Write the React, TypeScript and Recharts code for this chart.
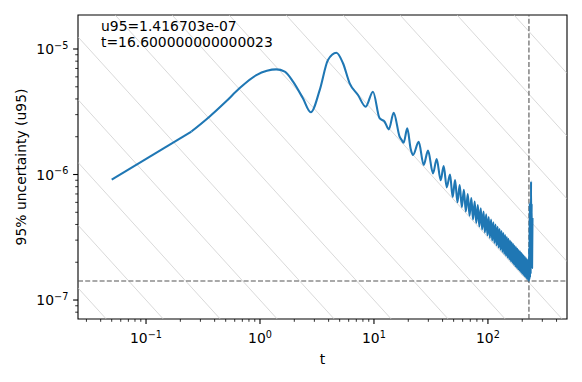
import { LineChart, Line, XAxis, YAxis, ReferenceLine, ReferenceArea } from 'recharts'

// axis ranges (log scale)
const xMin = 0.0253
const xMax = 494
const yMin = 7.06e-8
const yMax = 1.866e-5

// smooth start and the first big oscillations
const tEarly = [
  0.05, 0.25, 0.36, 0.5, 0.66, 0.93, 1.15, 1.39, 1.65, 1.95, 2.38, 2.79, 3.34, 3.95, 4.68, 5.35,
  6.12, 7.24, 8.46, 9.8, 11.2, 12.4, 13.5, 14.9, 16.8, 17.4, 18.2, 19.6, 21.0, 22.0, 24.7, 27.3,
  29.8, 33.0, 35.5, 38.5, 40.9, 43.5,
]
const uEarly = [
  9.1e-7, 2.2e-6, 2.89e-6, 3.8e-6, 4.86e-6, 6.2e-6, 6.7e-6, 6.88e-6, 6.6e-6, 5.5e-6, 4.05e-6,
  3.13e-6, 4.7e-6, 8.17e-6, 9.33e-6, 7.7e-6, 5.33e-6, 4.3e-6, 3.47e-6, 4.57e-6, 2.81e-6, 2.64e-6,
  2.29e-6, 3.1e-6, 2.0e-6, 1.9e-6, 1.79e-6, 2.33e-6, 1.6e-6, 1.43e-6, 1.82e-6, 1.19e-6, 1.55e-6,
  1.02e-6, 1.33e-6, 9.0e-7, 1.17e-6, 7.9e-7,
]

// dense ringing band: tops and bottoms
const tPeaks = [
  46.5, 51.5, 56.5, 61.5, 66.5, 71.5, 76.5, 81.5, 86.5, 91.5, 96.5, 101.5, 106.5, 111.5, 116.5,
  121.5, 126.5, 131.5, 136.5, 141.5, 146.5, 151.5, 156.5, 161.5, 166.5, 171.5, 176.5, 181.5,
  186.5, 191.5, 196.5, 201.5, 206.5, 211.5, 216.5, 221.5, 226.5,
]
const uPeaks = [
  1.0e-6, 9.03e-7, 8.23e-7, 7.56e-7, 6.99e-7, 6.5e-7, 6.08e-7, 5.71e-7, 5.38e-7, 5.08e-7, 4.82e-7,
  4.58e-7, 4.37e-7, 4.17e-7, 3.99e-7, 3.83e-7, 3.68e-7, 3.54e-7, 3.41e-7, 3.29e-7, 3.17e-7,
  3.07e-7, 2.97e-7, 2.88e-7, 2.79e-7, 2.71e-7, 2.63e-7, 2.56e-7, 2.49e-7, 2.43e-7, 2.37e-7,
  2.31e-7, 2.25e-7, 2.2e-7, 2.15e-7, 2.1e-7, 2.05e-7,
]
const tTroughs = [
  49, 54, 59, 64, 69, 74, 79, 84, 89, 94, 99, 104, 109, 114, 119, 124, 129, 134, 139, 144, 149,
  154, 159, 164, 169, 174, 179, 184, 189, 194, 199, 204, 209, 214, 219, 224, 229,
]
const uTroughs = [
  6.62e-7, 6.01e-7, 5.5e-7, 5.07e-7, 4.7e-7, 4.39e-7, 4.11e-7, 3.86e-7, 3.65e-7, 3.45e-7, 3.28e-7,
  3.12e-7, 2.98e-7, 2.85e-7, 2.73e-7, 2.62e-7, 2.52e-7, 2.42e-7, 2.33e-7, 2.25e-7, 2.18e-7,
  2.11e-7, 2.04e-7, 1.98e-7, 1.92e-7, 1.86e-7, 1.81e-7, 1.76e-7, 1.72e-7, 1.67e-7, 1.63e-7,
  1.59e-7, 1.55e-7, 1.52e-7, 1.48e-7, 1.45e-7, 1.416703e-7,
]

// jump at the end
const tTail = [230, 231, 233, 234, 236, 237, 239, 240, 242, 244, 246]
const uTail = [2.6e-7, 1.45e-7, 5.9e-7, 1.5e-7, 5.5e-7, 1.6e-7, 8.8e-7, 2.5e-7, 5.9e-7, 1.8e-7, 4.5e-7]

const tBest = 229
const uBest = 1.416703e-7

// constant u*t guide lines
const guideC = [3.16e-9, 1e-8, 3.16e-8, 1e-7, 3.16e-7, 1e-6, 3.16e-6, 1e-5, 3.16e-5, 1e-4, 3.16e-4, 1e-3, 3.16e-3]

const xMajor = [0.1, 1, 10, 100]
const xExp = ['\u22121', '0', '1', '2']
const xMinor = [
  0.03, 0.04, 0.05, 0.06, 0.07, 0.08, 0.09, 0.2, 0.3, 0.4, 0.5, 0.6, 0.7, 0.8, 0.9, 2, 3, 4, 5, 6,
  7, 8, 9, 20, 30, 40, 50, 60, 70, 80, 90, 200, 300, 400,
]
const yMajor = [1e-7, 1e-6, 1e-5]
const yExp = ['\u22127', '\u22126', '\u22125']
const yMinor = [
  8e-8, 9e-8, 2e-7, 3e-7, 4e-7, 5e-7, 6e-7, 7e-7, 8e-7, 9e-7, 2e-6, 3e-6, 4e-6, 5e-6, 6e-6, 7e-6,
  8e-6, 9e-6,
]

const data = [
  ...tEarly.map((t, i) => ({ t, u: uEarly[i] })),
  ...tPeaks.flatMap((t, i) => [
    { t, u: uPeaks[i] },
    { t: tTroughs[i], u: uTroughs[i] },
  ]),
  ...tTail.map((t, i) => ({ t, u: uTail[i] })),
]
// the first stretch is a straight power law, the rest is smooth
const startData = data.slice(0, 2)
const restData = data.slice(1)

const font = 'DejaVu Sans, sans-serif'

function XTick({ x, y, payload }: any) {
  const i = xMajor.indexOf(payload.value)
  const major = i >= 0
  return (
    <g>
      <line x1={x} x2={x} y1={y} y2={y + (major ? 4.9 : 2.8)} stroke="#000" strokeWidth={major ? 1.1 : 0.8} />
      {major && (
        <text x={x} y={y + 24} textAnchor="middle" fontSize={13.9} fontFamily={font} fill="#000">
          <tspan>10</tspan>
          <tspan dy={-5.5} fontSize={9.7}>{xExp[i]}</tspan>
        </text>
      )}
    </g>
  )
}

function YTick({ x, y, payload }: any) {
  const i = yMajor.indexOf(payload.value)
  const major = i >= 0
  return (
    <g>
      <line x1={x - (major ? 4.9 : 2.8)} x2={x} y1={y} y2={y} stroke="#000" strokeWidth={major ? 1.1 : 0.8} />
      {major && (
        <text x={x - 9.7} y={y + 5} textAnchor="end" fontSize={13.9} fontFamily={font} fill="#000">
          <tspan>10</tspan>
          <tspan dy={-5.5} fontSize={9.7}>{yExp[i]}</tspan>
        </text>
      )}
    </g>
  )
}

function XTitle({ viewBox }: any) {
  return (
    <text x={viewBox.x + viewBox.width / 2} y={viewBox.y + 45} textAnchor="middle" fontSize={13.9} fontFamily={font} fill="#000">
      t
    </text>
  )
}

function YTitle({ viewBox }: any) {
  const cx = viewBox.x + 21
  const cy = viewBox.y + viewBox.height / 2
  return (
    <text x={cx} y={cy} transform={`rotate(-90 ${cx} ${cy})`} textAnchor="middle" dominantBaseline="central" fontSize={13.9} fontFamily={font} fill="#000">
      95% uncertainty (u95)
    </text>
  )
}

export default function App() {
  return (
    <div style={{ position: 'absolute', left: 0, top: 0, width: 582, height: 382, background: '#fff' }}>
      <LineChart width={582} height={382} margin={{ top: 15, right: 15, bottom: 0, left: 0 }}>
        <XAxis
          dataKey="t"
          type="number"
          scale="log"
          domain={[xMin, xMax]}
          allowDataOverflow
          ticks={[...xMajor, ...xMinor]}
          interval={0}
          tick={XTick}
          tickLine={false}
          tickSize={0}
          tickMargin={0}
          axisLine={false}
          height={63}
          label={<XTitle />}
        />
        <YAxis
          type="number"
          scale="log"
          domain={[yMin, yMax]}
          allowDataOverflow
          ticks={[...yMajor, ...yMinor]}
          interval={0}
          tick={YTick}
          tickLine={false}
          tickSize={0}
          tickMargin={0}
          axisLine={false}
          width={78}
          label={<YTitle />}
        />
        {guideC.map((c) => (
          <ReferenceLine
            key={c}
            segment={[
              { x: xMin, y: c / xMin },
              { x: xMax, y: c / xMax },
            ]}
            stroke="#c8c8c8"
            strokeWidth={0.7}
            ifOverflow="hidden"
          />
        ))}
        <ReferenceLine x={tBest} stroke="#555" strokeWidth={1.1} strokeDasharray="5 2.2" />
        <ReferenceLine y={uBest} stroke="#555" strokeWidth={1.1} strokeDasharray="5 2.2" />
        <Line
          data={startData}
          type="linear"
          dataKey="u"
          stroke="#1f77b4"
          strokeWidth={2.08}
          strokeLinecap="butt"
          dot={false}
          activeDot={false}
          isAnimationActive={false}
        />
        <Line
          data={restData}
          type="monotone"
          dataKey="u"
          stroke="#1f77b4"
          strokeWidth={2.08}
          strokeLinejoin="round"
          dot={false}
          activeDot={false}
          isAnimationActive={false}
        />
        <ReferenceArea x1={xMin} x2={xMax} y1={yMin} y2={yMax} fill="none" stroke="#000" strokeWidth={1.1} ifOverflow="visible" />
      </LineChart>
      <div
        style={{
          position: 'absolute',
          left: 101,
          top: 18,
          fontFamily: font,
          fontSize: 13.9,
          lineHeight: '16px',
          color: '#000',
          whiteSpace: 'pre',
        }}
      >
        {'u95=1.416703e-07\nt=16.600000000000023'}
      </div>
    </div>
  )
}
